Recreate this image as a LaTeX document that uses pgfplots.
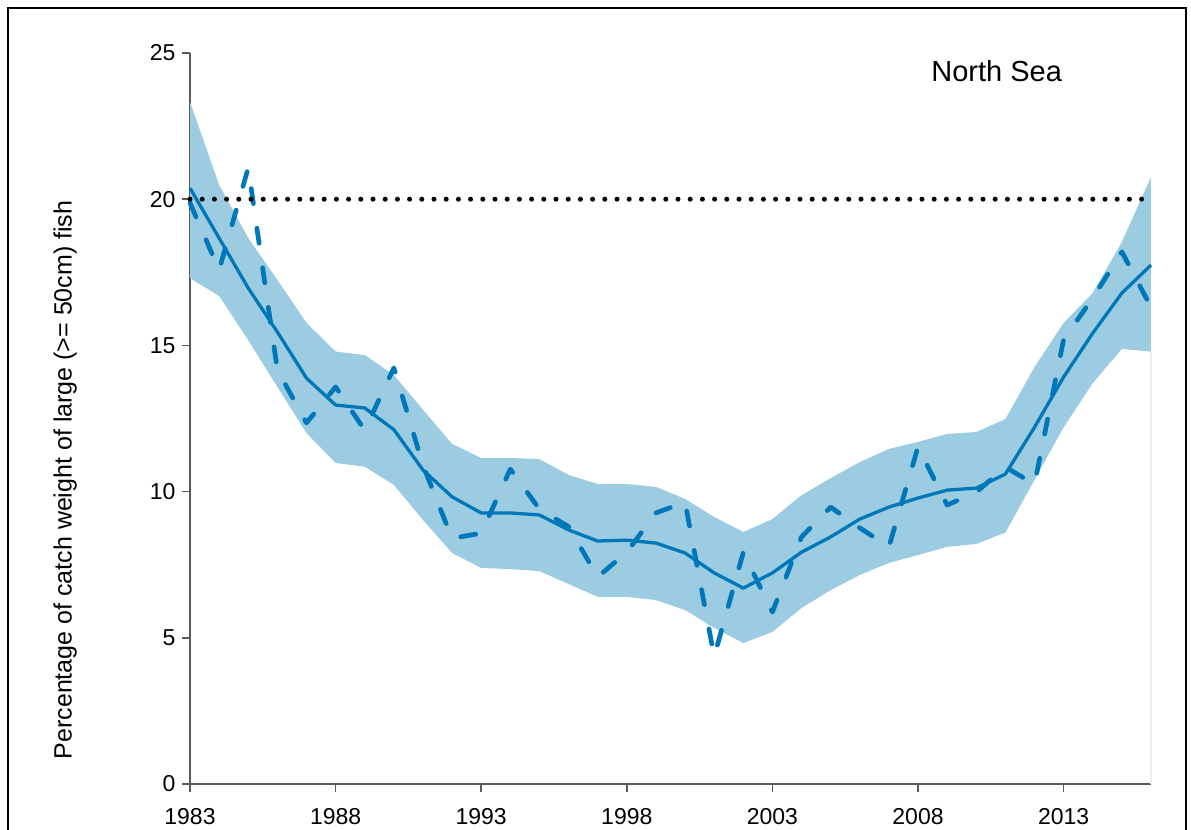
\documentclass[border=0pt]{standalone}
\usepackage{pgfplots}
\pgfplotsset{compat=1.18}
\usepackage{pgfplotstable}
\usepgfplotslibrary{fillbetween}
\usepackage{fontspec}
\setmainfont{Liberation Sans}

\definecolor{bandblue}{RGB}{155,204,226}
\definecolor{lineblue}{RGB}{0,119,184}
\definecolor{axisgray}{RGB}{90,90,90}
\definecolor{edgeblue}{RGB}{228,239,247}

% Large fish indicator, North Sea: confidence band, smoothed trend, annual values
\pgfplotstableread{
year  low    high   trend  annual
1983  17.30  23.33  20.38  19.87
1984  16.69  20.49  18.67  17.58
1985  15.18  18.67  16.96  21.07
1986  13.58  17.24  15.46  14.16
1987  12.00  15.77  13.88  12.35
1988  10.98  14.79  12.96  13.58
1989  10.85  14.67  12.86  12.10
1990  10.23  13.99  12.12  14.23
1991   9.03  12.80  10.74  10.90
1992   7.90  11.63   9.82   8.40
1993   7.39  11.15   9.27   8.58
1994   7.35  11.15   9.27  10.77
1995   7.28  11.11   9.20   9.40
1996   6.84  10.57   8.69   8.80
1997   6.40  10.26   8.31   7.08
1998   6.40  10.26   8.34   7.93
1999   6.29  10.16   8.24   9.27
2000   5.95   9.75   7.90   9.64
2001   5.34   9.13   7.22   4.36
2002   4.82   8.62   6.70   7.92
2003   5.20   9.06   7.22   5.88
2004   6.02   9.88   7.93   8.45
2005   6.63  10.46   8.45   9.47
2006   7.15  11.01   9.06   8.76
2007   7.56  11.46   9.47   8.11
2008   7.83  11.70   9.78  11.53
2009   8.11  11.97  10.05   9.54
2010   8.21  12.04  10.12   9.98
2011   8.60  12.48  10.60  10.84
2012  10.40  14.26  12.20  10.25
2013  12.20  15.77  13.92  15.20
2014  13.71  16.79  15.42  16.62
2015  14.88  18.54  16.79  18.20
2016  14.79  20.76  17.75  16.31
}\lfitable

\begin{document}
\begin{tikzpicture}
\begin{axis}[
  at={(95pt,-392pt)}, anchor=south west,
  scale only axis, width=480.5pt, height=365.5pt,
  xmin=1983, xmax=2016, ymin=0, ymax=25,
  clip=false,
  axis x line*=bottom, axis y line*=left,
  axis line style={draw=axisgray, line width=0.8pt, -},
  xtick={1983,1988,...,2013}, ytick={0,5,...,25},
  tick align=outside, major tick length=3.8pt,
  tick style={draw=axisgray, line width=0.8pt},
  /pgf/number format/1000 sep={},
  /pgf/number format/assume math mode=true,
  tick label style={font=\fontsize{11.5}{13}\selectfont},
  xticklabel style={yshift=-5pt},
  ylabel={Percentage of catch weight of large (>= 50cm) fish},
  ylabel style={at={(axis description cs:-0.130,0.416)}, anchor=center,
                font=\fontsize{12.5}{15}\selectfont},
]
\addplot[name path=upper, draw=none] table[x=year, y=high] {\lfitable};
\addplot[name path=lower, draw=none] table[x=year, y=low] {\lfitable};
\addplot[fill=bandblue, draw=none] fill between[of=upper and lower];
\addplot[edgeblue, line width=0.6pt] coordinates {(2016,0) (2016,14.79)};
\addplot[lineblue, line width=1.65pt, line join=round] table[x=year, y=trend] {\lfitable};
\addplot[lineblue, line width=2.35pt, line cap=round, line join=round,
         dash pattern=on 7.6pt off 12.4pt] table[x=year, y=annual] {\lfitable};
\addplot[black, line width=2.5pt, line cap=round,
         dash pattern=on 0pt off 6.1pt] coordinates {(1983,20) (2016,20)};
\node[font=\fontsize{14.5}{17}\selectfont, anchor=base] at (axis cs:2010.7,24.01) {North Sea};
\end{axis}
% outer frame (bottom edge lies below the visible area)
\draw[line width=1.2pt] (4pt,-450pt) -- (4pt,-4pt) -- (593pt,-4pt) -- (593pt,-450pt);
\pgfresetboundingbox
\path[use as bounding box] (0pt,0pt) rectangle (595.5pt,-415pt);
\end{tikzpicture}
\end{document}
